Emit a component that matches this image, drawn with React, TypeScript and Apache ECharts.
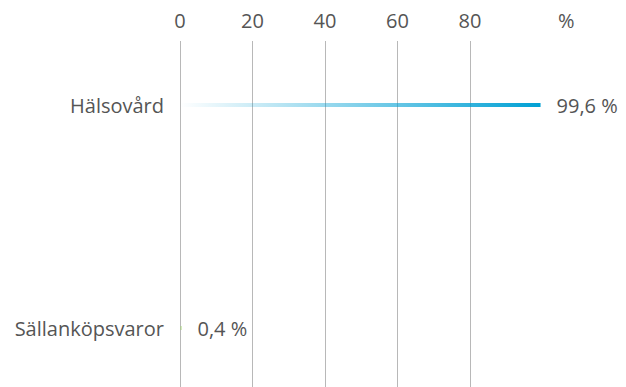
import React, { useEffect, useRef } from "react";
import * as echarts from "echarts";

const categories = ["Hälsovård", "Sällanköpsvaror"];
const values = [99.6, 0.4];
const barColors = ["#00a0d4", "#9fd46a"];
const tickMax = 80;
const tickStep = 20;
const unitLabel = "%";

const FONT = "Open Sans";
const TEXT = "#555555";
const FS = 20;

export default function App() {
  const ref = useRef<HTMLDivElement>(null);
  useEffect(() => {
    if (!ref.current) return;
    const chart = echarts.init(ref.current, undefined, { renderer: "svg" });
    const fmt = (v: number) => String(v).replace(".", ",") + " %";
    const hex = (c: string, a: number) => {
      const n = parseInt(c.slice(1), 16);
      return `rgba(${(n >> 16) & 255},${(n >> 8) & 255},${n & 255},${a})`;
    };
    chart.setOption({
      animation: false,
      grid: [
        { left: 180, right: 156, top: 41, bottom: 0 },
        { left: 180, width: 362, top: 105, height: 223 },
      ],
      xAxis: [
        {
          gridIndex: 0,
          type: "value",
          position: "top",
          min: 0,
          max: tickMax,
          interval: tickStep,
          axisLine: { show: false, onZero: false },
          axisTick: { show: false },
          splitLine: { show: true, lineStyle: { color: "#b8b8b8", width: 1 } },
          axisLabel: { color: TEXT, fontSize: FS, fontFamily: FONT, margin: 11 },
          name: unitLabel,
          nameLocation: "end",
          nameGap: 88,
          nameTextStyle: {
            color: TEXT,
            fontSize: FS,
            fontFamily: FONT,
            align: "left",
            verticalAlign: "bottom",
            padding: [0, 0, 11, 0],
          },
        },
        {
          gridIndex: 1,
          type: "value",
          min: 0,
          max: 100,
          show: false,
        },
      ],
      yAxis: [
        {
          gridIndex: 0,
          type: "value",
          show: false,
        },
        {
          gridIndex: 1,
          type: "category",
          data: categories,
          inverse: true,
          boundaryGap: false,
          axisLine: { show: false },
          axisTick: { show: false },
          splitLine: { show: false },
          axisLabel: { color: TEXT, fontSize: FS, fontFamily: FONT, margin: 16 },
        },
      ],
      series: [
        {
          type: "bar",
          xAxisIndex: 1,
          yAxisIndex: 1,
          barWidth: 4,
          data: values.map((v, i) => ({
            value: v,
            itemStyle: {
              color: new echarts.graphic.LinearGradient(0, 0, 1, 0, [
                { offset: 0, color: hex(barColors[i], 0) },
                { offset: 1, color: barColors[i] },
              ]),
            },
          })),
          label: {
            show: true,
            position: "right",
            distance: 16,
            color: TEXT,
            fontSize: FS,
            fontFamily: FONT,
            formatter: (p: any) => fmt(p.value),
          },
        },
      ],
    });
    return () => chart.dispose();
  }, []);
  return <div ref={ref} style={{ width: 626, height: 387, position: "fixed", left: 0, top: 0, background: "#fff" }} />;
}
